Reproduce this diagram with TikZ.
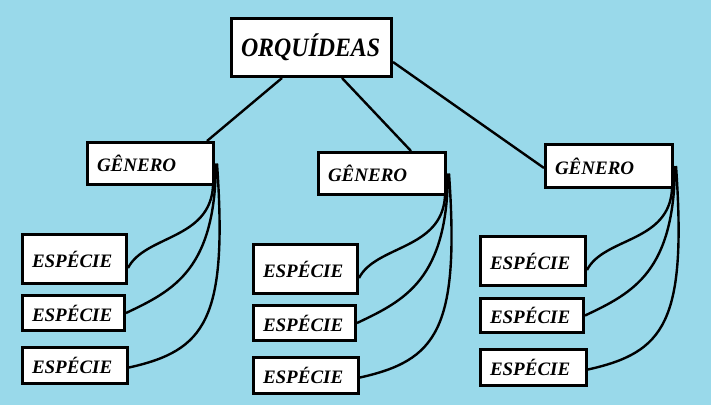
\documentclass[tikz,border=0pt]{standalone}
\usepackage{fontspec}
\setmainfont{Liberation Serif}

\definecolor{fundo}{RGB}{153,217,234}

\tikzset{
	caixa/.style 2 args={
		draw,
		line width=3pt,
		fill=white,
		anchor=north west,
		inner xsep=9.5pt,
		inner ysep=2pt,
		align=left,
		text width=#1,
		minimum height=#2,
		font=\fontsize{19}{22}\selectfont\bfseries\itshape,
	},
	ramo/.style={
		line width=2.4pt,
	},
}

\begin{document}
\begin{tikzpicture}[x=1pt, y=-1pt]
	\path[use as bounding box, fill=fundo] (0,0) rectangle (711,405);

	% raiz
	\node[caixa={141pt}{58pt}, font=\fontsize{26.5}{30}\selectfont\bfseries\itshape] (orq) at (230,17) {\scalebox{0.9}[1]{ORQUÍDEAS}};

	% generos
	\node[caixa={107pt}{42pt}] (gen1) at (86,141) {GÊNERO};
	\node[caixa={108pt}{42pt}] (gen2) at (317,151) {GÊNERO};
	\node[caixa={108pt}{43pt}] (gen3) at (544,143) {GÊNERO};

	% especies
	\node[caixa={85pt}{49pt}] (esp1a) at (21,233) {ESPÉCIE};
	\node[caixa={83pt}{35pt}] (esp1b) at (21,294) {ESPÉCIE};
	\node[caixa={86pt}{36pt}] (esp1c) at (21,346) {ESPÉCIE};
	\node[caixa={85pt}{49pt}] (esp2a) at (252,243) {ESPÉCIE};
	\node[caixa={83pt}{35pt}] (esp2b) at (252,304) {ESPÉCIE};
	\node[caixa={86pt}{36pt}] (esp2c) at (252,356) {ESPÉCIE};
	\node[caixa={86pt}{49pt}] (esp3a) at (479,235) {ESPÉCIE};
	\node[caixa={84pt}{34pt}] (esp3b) at (479,297) {ESPÉCIE};
	\node[caixa={87pt}{36pt}] (esp3c) at (479,348) {ESPÉCIE};

	% ligacoes raiz - generos
	\draw[ramo] ([xshift=52pt]orq.south west) -- ([xshift=-8pt]gen1.north east);
	\draw[ramo] ([xshift=112pt]orq.south west) -- ([xshift=-36pt]gen2.north east);
	\draw[ramo] ([yshift=16pt]orq.south east) -- ([yshift=-2pt]gen3.west);

	% ligacoes generos - especies
	\foreach \g in {1,2,3} {
		\draw[ramo] ([xshift=-2pt]gen\g.south east) .. controls +(-3,54) and +(17,-33) .. ([yshift=-9pt]esp\g a.east);
		\draw[ramo] ([xshift=1pt]gen\g.east) .. controls +(-1,105) and +(49,-23) .. (esp\g b.east);
		\draw[ramo] ([xshift=2pt]gen\g.east) .. controls +(11,157) and +(76,-17) .. ([yshift=-2pt]esp\g c.east);
	}
\end{tikzpicture}
\end{document}
